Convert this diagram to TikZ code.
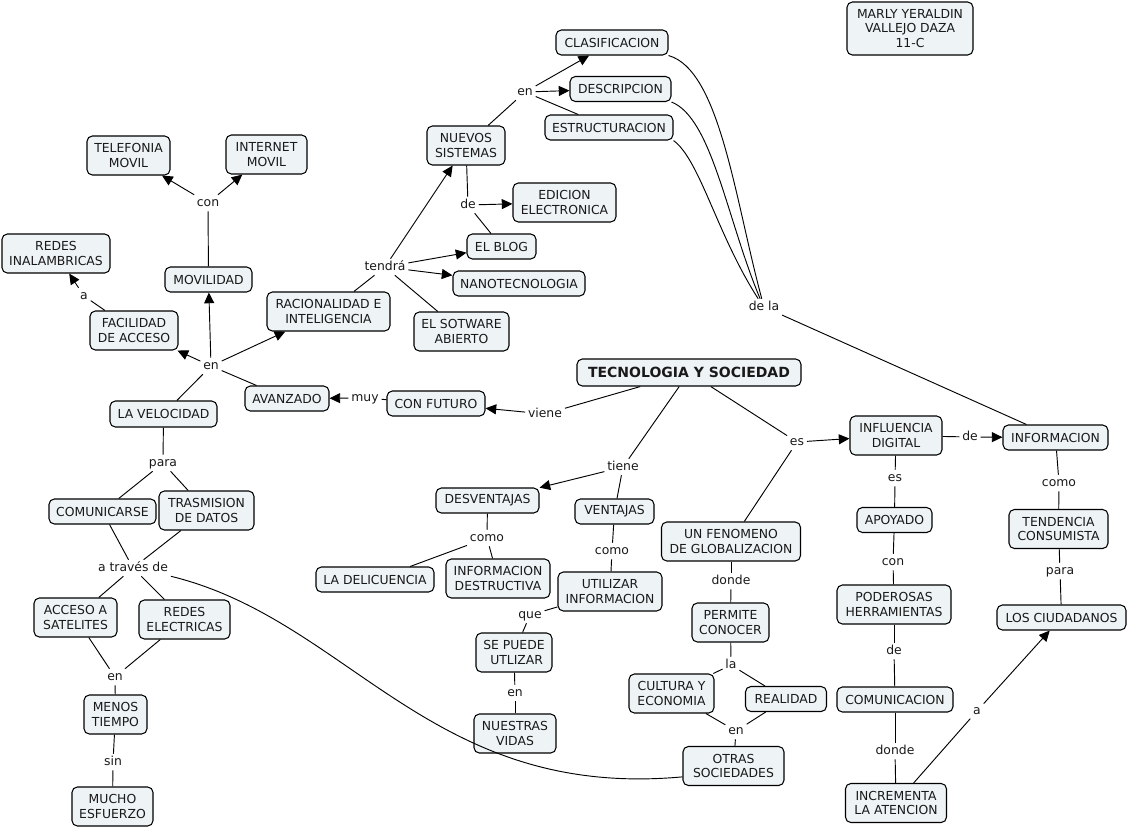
\documentclass[tikz,border=0pt]{standalone}
\usepackage{fontspec}
\setmainfont{DejaVu Sans}
\usetikzlibrary{arrows.meta}
\definecolor{boxfill}{RGB}{238,243,245}
\definecolor{txt}{RGB}{25,25,25}
\newcommand\cmfont{\fontsize{9.3pt}{10.9pt}\selectfont}
\newcommand\ttlfont{\fontsize{10.5pt}{12pt}\selectfont\bfseries}
\begin{document}
\begin{tikzpicture}[x=0.75pt,y=-0.75pt,
  cpt/.style={draw=black,line width=0.8pt,fill=boxfill,rounded corners=4pt,align=center,inner sep=1pt,font=\cmfont,text=txt},
  sz/.style 2 args={minimum width=#1*0.75pt,minimum height=#2*0.75pt},
  lk/.style={inner xsep=2pt,inner ysep=1.5pt,text height=7pt,text depth=2pt,font=\cmfont,text=txt},
  ln/.style={line width=0.7pt,draw=black},
  ar/.style={ln,-{Triangle[length=8pt,width=7.5pt]}}]
\useasboundingbox (0,0) rectangle (1127,829);
% concepts
\node[cpt,sz={126}{53}] (marly) at (910,28.5) {MARLY YERALDIN\\VALLEJO DAZA\\11-C};
\node[cpt,sz={112}{25}] (clas) at (612,42.5) {CLASIFICACION};
\node[cpt,sz={101}{25}] (desc) at (620.5,89) {DESCRIPCION};
\node[cpt,sz={128}{25}] (estr) at (609,127.5) {ESTRUCTURACION};
\node[cpt,sz={78}{39}] (nuev) at (466,145.5) {NUEVOS\\SISTEMAS};
\node[cpt,sz={83}{39}] (telf) at (128.5,155.5) {TELEFONIA\\MOVIL};
\node[cpt,sz={81}{39}] (inet) at (266.5,154.5) {INTERNET\\MOVIL};
\node[cpt,sz={103}{39}] (edic) at (564.5,202.5) {EDICION\\ELECTRONICA};
\node[cpt,sz={69}{25}] (blog) at (501.5,246.5) {EL BLOG};
\node[cpt,sz={132}{25}] (nano) at (519,283.5) {NANOTECNOLOGIA};
\node[cpt,sz={108}{39}] (rinal) at (56,253.5) {REDES\\INALAMBRICAS};
\node[cpt,sz={87}{25}] (movi) at (208.5,279.5) {MOVILIDAD};
\node[cpt,sz={123}{39}] (raci) at (328.5,311.5) {RACIONALIDAD E\\INTELIGENCIA};
\node[cpt,sz={88}{39}] (faci) at (134,330.5) {FACILIDAD\\DE ACCESO};
\node[cpt,sz={95}{39}] (sotw) at (461.5,331.5) {EL SOTWARE\\ABIERTO};
\node[cpt,sz={224}{27},font=\ttlfont] (tec) at (689,372.5) {TECNOLOGIA Y SOCIEDAD};
\node[cpt,sz={84}{25}] (avan) at (287,398.5) {AVANZADO};
\node[cpt,sz={98}{25}] (cfut) at (436,403.5) {CON FUTURO};
\node[cpt,sz={107}{26}] (velo) at (163.5,414) {LA VELOCIDAD};
\node[cpt,sz={92}{39}] (infl) at (896,435.5) {INFLUENCIA\\DIGITAL};
\node[cpt,sz={105}{25}] (info) at (1055.5,437.5) {INFORMACION};
\node[cpt,sz={103}{25}] (desv) at (487.5,500.5) {DESVENTAJAS};
\node[cpt,sz={79}{25}] (vent) at (614.5,511.5) {VENTAJAS};
\node[cpt,sz={107}{25}] (comu) at (102.5,511.5) {COMUNICARSE};
\node[cpt,sz={95}{39}] (tras) at (206.5,510.5) {TRASMISION\\DE DATOS};
\node[cpt,sz={139}{39}] (feno) at (731,541.5) {UN FENOMENO\\DE GLOBALIZACION};
\node[cpt,sz={75}{25}] (apoy) at (894.5,520) {APOYADO};
\node[cpt,sz={99}{39}] (tend) at (1058.5,529) {TENDENCIA\\CONSUMISTA};
\node[cpt,sz={118}{25}] (deli) at (375,579.5) {LA DELICUENCIA};
\node[cpt,sz={104}{39}] (ides) at (498,578.5) {INFORMACION\\DESTRUCTIVA};
\node[cpt,sz={104}{39}] (util) at (610,591.5) {UTILIZAR\\INFORMACION};
\node[cpt,sz={83}{39}] (acce) at (75.5,617.5) {ACCESO A\\SATELITES};
\node[cpt,sz={91}{39}] (rele) at (184.5,619.5) {REDES\\ELECTRICAS};
\node[cpt,sz={114}{39}] (pode) at (894,604.5) {PODEROSAS\\HERRAMIENTAS};
\node[cpt,sz={129}{25}] (ciud) at (1061.5,617.5) {LOS CIUDADANOS};
\node[cpt,sz={77}{39}] (perm) at (730.5,622.5) {PERMITE\\CONOCER};
\node[cpt,sz={76}{39}] (sepu) at (514,652.5) {SE PUEDE\\\hspace*{4pt}UTLIZAR};
\node[cpt,sz={85}{39}] (cult) at (671.5,693.5) {CULTURA Y\\ECONOMIA};
\node[cpt,sz={81}{25}] (real) at (786,699) {REALIDAD};
\node[cpt,sz={116}{25}] (comn) at (895,699.5) {COMUNICACION};
\node[cpt,sz={63}{39}] (meno) at (115.5,714.5) {MENOS\\TIEMPO};
\node[cpt,sz={82}{39}] (nues) at (515,733.5) {NUESTRAS\\VIDAS};
\node[cpt,sz={101}{39}] (otra) at (733.5,766) {OTRAS\\SOCIEDADES};
\node[cpt,sz={101}{39}] (incr) at (896,803) {INCREMENTA\\LA ATENCION};
\node[cpt,sz={81}{39}] (much) at (112.5,806.5) {MUCHO\\ESFUERZO};
% linking phrases
\node[lk] (len1) at (525,92) {en};
\node[lk] (lde1) at (468,205) {de};
\node[lk] (lcon1) at (208,203) {con};
\node[lk] (ltend) at (385,267) {tendrá};
\node[lk] (la1) at (84,296) {a};
\node[lk] (len2) at (211,366) {en};
\node[lk] (ldela) at (764,307) {de la};
\node[lk] (lmuy) at (365,398) {muy};
\node[lk] (lvien) at (545,414) {viene};
\node[lk] (lpara1) at (163,463) {para};
\node[lk] (ltien) at (623,467) {tiene};
\node[lk] (les1) at (797,442) {es};
\node[lk] (lde2) at (970,437) {de};
\node[lk] (les2) at (895,478) {es};
\node[lk] (lcomo1) at (1059,483) {como};
\node[lk] (lcomo2) at (487,538) {como};
\node[lk] (lcomo3) at (612,551) {como};
\node[lk] (ltrav) at (133,568) {a través de};
\node[lk] (ldond1) at (731,581) {donde};
\node[lk] (lcon2) at (893,562) {con};
\node[lk] (lque) at (530,615) {que};
\node[lk] (lla) at (731,665) {la};
\node[lk] (lpara2) at (1060,571) {para};
\node[lk] (lde3) at (894,651) {de};
\node[lk] (len3) at (115,677) {en};
\node[lk] (len4) at (515,693) {en};
\node[lk] (len5) at (736,731) {en};
\node[lk] (lsin) at (113,762) {sin};
\node[lk] (ldond2) at (895,751) {donde};
\node[lk] (la2) at (977,711) {a};
% connectors
\draw[ln] (nuev) -- (len1);
\draw[ar] (len1) -- (clas);
\draw[ar] (len1) -- (desc);
\draw[ln] (len1) -- (estr);
\draw[ln] (nuev) -- (lde1);
\draw[ar] (lde1) -- (edic);
\draw[ln] (blog) -- (lde1);
\draw[ln] (raci) -- (ltend);
\draw[ar] (ltend) -- (nuev);
\draw[ar] (ltend) -- (blog);
\draw[ar] (ltend) -- (nano);
\draw[ln] (ltend) -- (sotw);
\draw[ln] (movi) -- (lcon1);
\draw[ar] (lcon1) -- (telf);
\draw[ar] (lcon1) -- (inet);
\draw[ln] (faci) -- (la1);
\draw[ar] (la1) -- (rinal);
\draw[ln] (avan) -- (len2);
\draw[ln] (velo) -- (len2);
\draw[ar] (len2) -- (movi);
\draw[ar] (len2) -- (faci);
\draw[ar] (len2) -- (raci);
\draw[ln] (clas.south east) .. controls (720,70) and (735,200) .. (ldela.105);
\draw[ln] (desc.south east) .. controls (712,118) and (727,220) .. (ldela.115);
\draw[ln] (estr.south east) .. controls (700,160) and (717,235) .. (ldela.125);
\draw[ln] (ldela) -- (info);
\draw[ln] (cfut) -- (lmuy);
\draw[ar] (lmuy) -- (avan);
\draw[ln] (tec) -- (lvien);
\draw[ar] (lvien) -- (cfut);
\draw[ln] (velo) -- (lpara1);
\draw[ln] (lpara1) -- (comu);
\draw[ln] (lpara1) -- (tras);
\draw[ln] (comu) -- (ltrav);
\draw[ln] (tras) -- (ltrav);
\draw[ln] (ltrav) -- (acce);
\draw[ln] (ltrav) -- (rele);
\draw[ln] (ltrav.south east) .. controls (350,620) and (430,800) .. (otra.192);
\draw[ln] (acce) -- (len3);
\draw[ln] (rele) -- (len3);
\draw[ln] (len3) -- (meno);
\draw[ln] (meno) -- (lsin);
\draw[ln] (lsin) -- (much);
\draw[ln] (tec) -- (ltien);
\draw[ar] (ltien) -- (desv);
\draw[ln] (ltien) -- (vent);
\draw[ln] (desv) -- (lcomo2);
\draw[ln] (lcomo2) -- (deli);
\draw[ln] (lcomo2) -- (ides);
\draw[ln] (vent) -- (lcomo3);
\draw[ln] (lcomo3) -- (util);
\draw[ln] (util) -- (lque);
\draw[ln] (lque) -- (sepu);
\draw[ln] (sepu) -- (len4);
\draw[ln] (len4) -- (nues);
\draw[ln] (tec) -- (les1);
\draw[ar] (les1) -- (infl);
\draw[ln] (les1) -- (feno);
\draw[ln] (feno) -- (ldond1);
\draw[ln] (ldond1) -- (perm);
\draw[ln] (perm) -- (lla);
\draw[ln] (lla) -- (cult);
\draw[ln] (lla) -- (real);
\draw[ln] (cult) -- (len5);
\draw[ln] (real) -- (len5);
\draw[ln] (len5) -- (otra);
\draw[ln] (infl) -- (lde2);
\draw[ar] (lde2) -- (info);
\draw[ln] (infl) -- (les2);
\draw[ln] (les2) -- (apoy);
\draw[ln] (apoy) -- (lcon2);
\draw[ln] (lcon2) -- (pode);
\draw[ln] (pode) -- (lde3);
\draw[ln] (lde3) -- (comn);
\draw[ln] (comn) -- (ldond2);
\draw[ln] (ldond2) -- (incr);
\draw[ln] (incr) -- (la2);
\draw[ar] (la2) -- (ciud);
\draw[ln] (info) -- (lcomo1);
\draw[ln] (lcomo1) -- (tend);
\draw[ln] (tend) -- (lpara2);
\draw[ln] (lpara2) -- (ciud);
\end{tikzpicture}
\end{document}
